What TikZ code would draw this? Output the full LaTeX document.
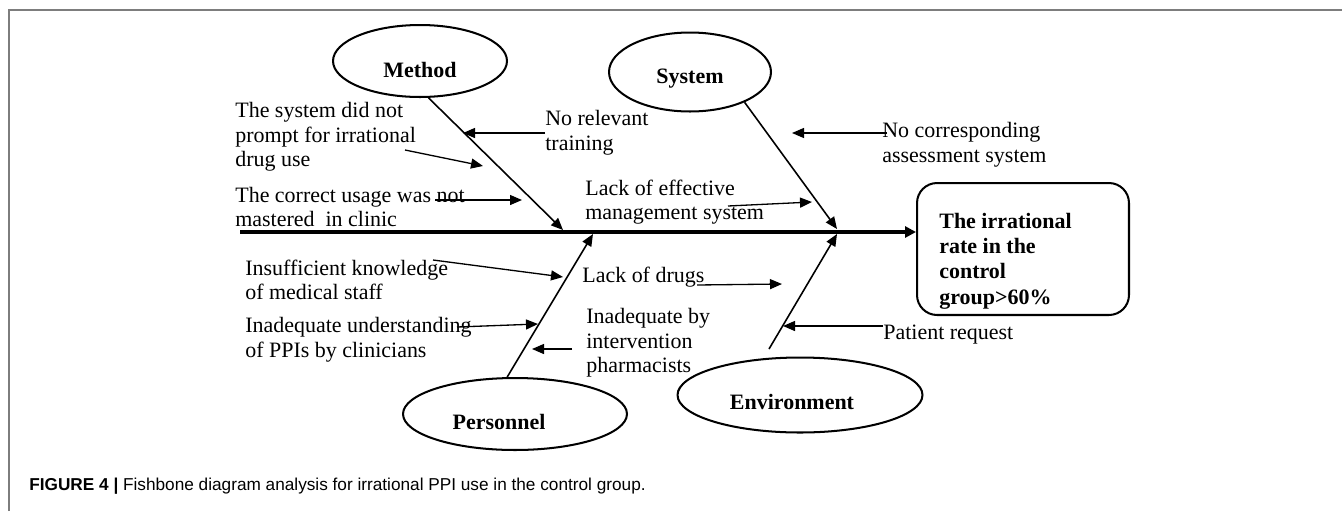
\documentclass[tikz,border=0pt]{standalone}
\usepackage{fontspec}
\setmainfont{Liberation Serif}
\newfontfamily\capfont{Liberation Sans}
\usetikzlibrary{shapes.geometric}
\usetikzlibrary{arrows.meta}
\definecolor{frame1}	{RGB}{125,125,125}
\tikzstyle{frame}= 	[draw=frame1, line width=0.8pt]
\tikzstyle{spine}= 	[line width=1.9pt, -{Triangle[length=0.22cm,width=0.22cm]}]
\tikzstyle{bone}= 	[line width=0.9pt, -{Triangle[length=0.24cm,width=0.2cm]}]
\tikzstyle{twig}= 	[line width=0.75pt, -{Triangle[length=0.24cm,width=0.2cm]}]
\tikzstyle{cause}=	[ellipse, draw, line width=1.15pt, inner sep=0pt]
\tikzstyle{cname}=	[inner sep=0pt, font=\fontsize{12.5}{14}\selectfont\bfseries]
\tikzstyle{reason}=	[inner sep=0pt, anchor=west, align=left, font=\fontsize{12.5}{14}\selectfont]
\tikzstyle{goal}=	[draw, line width=1.15pt, rounded corners=0.4cm, minimum width=4.24cm, minimum height=2.64cm]
\tikzstyle{goaltext}=	[inner sep=0pt, anchor=west, align=left, font=\fontsize{12.5}{14.4}\selectfont\bfseries]
\tikzstyle{caption}=	[inner sep=0pt, anchor=base west, font=\capfont\fontsize{9.8}{11}\selectfont]

\begin{document}
\begin{tikzpicture}[x=0.02cm, y=-0.02cm]
	\useasboundingbox (0,0) rectangle (1342,511);

	%%% frame
	\draw[frame] (9,511) -- (9,10) -- (1342,10);

	%%% effect and spine
	\node[goal] (res) at (1023,249) {};
	\node[goaltext] (rest) at ([xshift=0.46cm, yshift=-0.24cm]res.west) {The irrational\\rate in the\\control\\group>60\%};

	\coordinate (tail) at (240,232);
	\draw[spine] (tail) -- (tail -| res.west);

	%%% Method
	\node[cause, minimum width=3.48cm, minimum height=1.44cm] (meth) at (420,61) {};
	\node[cname] (metht) at ([yshift=-0.18cm]meth.center) {Method};
	\coordinate (jm) at (563,230);
	\draw[bone] (meth.-77) -- (jm);

	% causes
	\node[reason] (tsys) at (235,137) {The system did not\\prompt for irrational\\drug use};
	\coordinate (tsysa) at (405,150);
	\coordinate (tsysb) at (483,166);
	\draw[twig] (tsysa) -- (tsysb);

	\node[reason] (tuse) at (235,207) {The correct usage was not\\mastered\ \ in clinic};
	\coordinate (tusea) at (435,200);
	\coordinate (tuseb) at (522,200);
	\draw[twig] (tusea) -- (tuseb);

	\node[reason] (ttrain) at (545,133) {No relevant\\training};
	\coordinate (ttrainb) at (463,133);
	\draw[twig] (ttrain.west) -- (ttrainb);

	%%% System
	\node[cause, minimum width=3.24cm, minimum height=1.58cm] (syst) at (690,72) {};
	\node[cname] (systt) at ([yshift=-0.14cm]syst.center) {System};
	\coordinate (js) at (837,229);
	\draw[bone] (syst.-29) -- (js);

	% causes
	\node[reason] (tmgmt) at (585,202) {Lack of effective\\management system};
	\coordinate (tmgmta) at (728,206);
	\coordinate (tmgmtb) at (812,202);
	\draw[twig] (tmgmta) -- (tmgmtb);

	\node[reason] (tassess) at (882,145) {No corresponding\\assessment system};
	\coordinate (tassessa) at (887,133);
	\coordinate (tassessb) at (792,133);
	\draw[twig] (tassessa) -- (tassessb);

	%%% Personnel
	\node[cause, minimum width=4.48cm, minimum height=1.44cm] (pers) at (515,414) {};
	\node[cname] (perst) at ([xshift=-0.32cm, yshift=-0.16cm]pers.center) {Personnel};
	\coordinate (jp) at (593,234);
	\draw[bone] (pers.102) -- (jp);

	% causes
	\node[reason] (tknow) at (245,280) {Insufficient knowledge\\of medical staff};
	\coordinate (tknowa) at (433,260);
	\coordinate (tknowb) at (563,277);
	\draw[twig] (tknowa) -- (tknowb);

	\node[reason] (tppi) at (245,340) {Inadequate understanding\\of PPIs by clinicians};
	\coordinate (tppia) at (457,327);
	\coordinate (tppib) at (538,324);
	\draw[twig] (tppia) -- (tppib);

	\node[reason] (tpharm) at (586,343) {Inadequate by\\intervention\\pharmacists};
	\coordinate (tpharma) at (572,349);
	\coordinate (tpharmb) at (532,349);
	\draw[twig] (tpharma) -- (tpharmb);

	%%% Environment
	\node[cause, minimum width=4.9cm, minimum height=1.5cm] (envi) at (800,395) {};
	\node[cname] (envit) at ([xshift=-0.16cm, yshift=-0.14cm]envi.center) {Environment};
	\coordinate (eb) at (769,349);
	\coordinate (je) at (837,234);
	\draw[bone] (eb) -- (je);

	% causes
	\node[reason] (tdrug) at (582,277) {Lack of drugs};
	\coordinate (tdruga) at (697,285);
	\coordinate (tdrugb) at (782,284);
	\draw[twig] (tdruga) -- (tdrugb);

	\node[reason] (tpat) at (883,335) {Patient request};
	\coordinate (tpata) at (883,326);
	\coordinate (tpatb) at (783,326);
	\draw[twig] (tpata) -- (tpatb);

	%%% caption
	\node[caption] (cap) at (29,490) {\textbf{FIGURE 4 |} Fishbone diagram analysis for irrational PPI use in the control group.};

\end{tikzpicture}
\end{document}
